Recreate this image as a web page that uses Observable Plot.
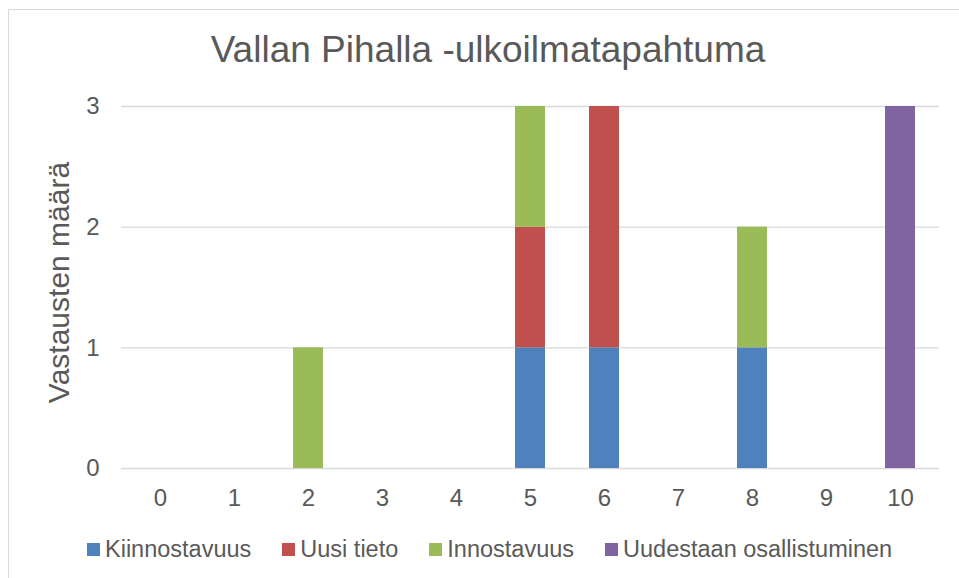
<!DOCTYPE html>
<html>
<head>
<meta charset="utf-8">
<script src="https://cdn.jsdelivr.net/npm/d3@7"></script>
<script src="https://cdn.jsdelivr.net/npm/@observablehq/plot@0.6"></script>
<style>
  html, body { margin: 0; padding: 0; background: #fff; overflow: hidden; }
  body { width: 959px; height: 578px; position: relative; font-family: "Liberation Sans", Arial, sans-serif; color: #595959; }
  .frame { position: absolute; left: 8px; top: 9px; width: 960px; height: 580px; border: 1px solid #d9d9d9; box-sizing: border-box; }
  .title { height: 80px; line-height: 80px; font-size: 37px; text-align: center; white-space: nowrap; }
  .legend { height: 58px; line-height: 58px; font-size: 23.5px; padding-left: 78px; white-space: nowrap; display: flex; align-items: center; }
  .legend .item { display: flex; align-items: center; margin-right: 31px; }
  .legend .sw { width: 13px; height: 13px; margin-right: 5px; display: inline-block; }
  svg { display: block; }
</style>
</head>
<body>
<div class="frame" id="frame">
  <div class="title" id="title"></div>
  <div id="chart"></div>
  <div class="legend" id="legend"></div>
</div>
<script>
const titleText = "Vallan Pihalla -ulkoilmatapahtuma";
const yTitle = "Vastausten määrä";
const categories = ["0", "1", "2", "3", "4", "5", "6", "7", "8", "9", "10"];
const seriesNames = ["Kiinnostavuus", "Uusi tieto", "Innostavuus", "Uudestaan osallistuminen"];
const seriesColors = ["#4F81BD", "#C0504D", "#9BBB59", "#8064A2"];
const kiinnostavuus = [0, 0, 0, 0, 0, 1, 1, 0, 1, 0, 0];
const uusiTieto     = [0, 0, 0, 0, 0, 1, 2, 0, 0, 0, 0];
const innostavuus   = [0, 0, 1, 0, 0, 1, 0, 0, 1, 0, 0];
const uudestaan     = [0, 0, 0, 0, 0, 0, 0, 0, 0, 0, 3];
const yTicks = [0, 1, 2, 3];

const seriesValues = [kiinnostavuus, uusiTieto, innostavuus, uudestaan];
const rows = [];
seriesNames.forEach((s, si) => {
  categories.forEach((c, ci) => {
    const v = seriesValues[si][ci];
    if (v > 0) rows.push({category: c, series: s, value: v});
  });
});

document.getElementById("title").textContent = titleText;

const font = '"Liberation Sans", Arial, sans-serif';
const chart = Plot.plot({
  width: 950,
  height: 430,
  marginTop: 16,
  marginBottom: 52,
  marginLeft: 112,
  marginRight: 20,
  style: {fontFamily: font, color: "#595959", background: "white", overflow: "visible"},
  x: {domain: categories, paddingInner: 0.6, paddingOuter: 0.3, label: null},
  y: {domain: [0, 3], label: null},
  color: {domain: seriesNames, range: seriesColors},
  marks: [
    Plot.ruleY(yTicks, {stroke: "#d9d9d9", strokeWidth: 1.3}),
    Plot.barY(rows, Plot.stackY({x: "category", y: "value", fill: "series", order: seriesNames})),
    Plot.axisX({tickSize: 0, tickPadding: 20, fontSize: 24, fill: "#595959"}),
    Plot.axisY({ticks: yTicks, tickSize: 0, tickPadding: 22, fontSize: 24, fill: "#595959", tickFormat: d3.format("d"), label: null}),
    Plot.text([yTitle], {frameAnchor: "left", text: d => d, rotate: -90, dx: -62, dy: -5, fontSize: 30, fill: "#595959", textAnchor: "middle", lineAnchor: "middle"})
  ]
});
document.getElementById("chart").appendChild(chart);

const legend = document.getElementById("legend");
seriesNames.forEach((s, i) => {
  const item = document.createElement("span");
  item.className = "item";
  const sw = document.createElement("span");
  sw.className = "sw";
  sw.style.background = seriesColors[i];
  const label = document.createElement("span");
  label.textContent = s;
  item.appendChild(sw);
  item.appendChild(label);
  legend.appendChild(item);
});
</script>
</body>
</html>
